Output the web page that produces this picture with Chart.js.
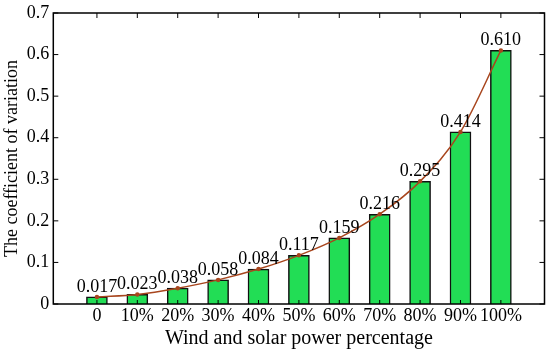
<!DOCTYPE html>
<html>
<head>
<meta charset="utf-8">
<script src="https://cdn.jsdelivr.net/npm/chart.js@4"></script>
<style>
  html, body { margin: 0; padding: 0; background: #fff; }
  #wrap { width: 550px; height: 349px; }
</style>
</head>
<body>
<div id="wrap"><canvas id="cvChart"></canvas></div>
<script>
const categories = ["0", "10%", "20%", "30%", "40%", "50%", "60%", "70%", "80%", "90%", "100%"];
const cvValues = [0.017, 0.023, 0.038, 0.058, 0.084, 0.117, 0.159, 0.216, 0.295, 0.414, 0.610];
const yTicks = [0, 0.1, 0.2, 0.3, 0.4, 0.5, 0.6, 0.7];

const serif = "'Liberation Serif', 'Times New Roman', serif";
const puntos = cvValues.map((v, i) => ({ x: i, y: v }));

// marco, marcas hacia dentro y etiquetas de valor
const extras = {
    id: "extras",
    afterDatasetsDraw(chart) {
        const { ctx, chartArea: a, scales: { x, y } } = chart;
        ctx.save();
        ctx.strokeStyle = "#000";
        ctx.lineWidth = 1.5;
        ctx.strokeRect(a.left, a.top, a.right - a.left, a.bottom - a.top);

        ctx.lineWidth = 1;
        ctx.beginPath();
        yTicks.forEach(t => {
            const py = y.getPixelForValue(t);
            ctx.moveTo(a.left, py); ctx.lineTo(a.left + 5, py);
            ctx.moveTo(a.right, py); ctx.lineTo(a.right - 5, py);
        });
        categories.forEach((c, i) => {
            const px = x.getPixelForValue(i);
            ctx.moveTo(px, a.top); ctx.lineTo(px, a.top + 5);
            ctx.moveTo(px, a.bottom); ctx.lineTo(px, a.bottom - 4);
        });
        ctx.stroke();

        ctx.fillStyle = "#000";
        ctx.font = "18px " + serif;
        ctx.textAlign = "center";
        ctx.textBaseline = "bottom";
        cvValues.forEach((v, i) => {
            ctx.fillText(v.toFixed(3), x.getPixelForValue(i), y.getPixelForValue(v) - 1);
        });
        ctx.restore();
    }
};

new Chart(document.getElementById("cvChart"), {
    data: {
        datasets: [
            {
                type: "line",
                data: puntos,
                borderColor: "#a8461e",
                backgroundColor: "#a8461e",
                borderWidth: 1.5,
                pointRadius: 1.5,
                tension: 0.4,
                cubicInterpolationMode: "monotone",
                order: 0
            },
            {
                type: "bar",
                data: puntos,
                backgroundColor: "#22dd55",
                borderColor: "#111",
                borderWidth: 1.5,
                barThickness: 21,
                order: 1
            }
        ]
    },
    options: {
        responsive: true,
        maintainAspectRatio: false,
        animation: false,
        layout: { padding: { top: 0, right: 4, left: 0, bottom: 0 } },
        plugins: { legend: { display: false }, tooltip: { enabled: false } },
        scales: {
            x: {
                type: "linear",
                offset: false,
                min: -1.08,
                max: 11.08,
                afterBuildTicks: s => { s.ticks = categories.map((c, i) => ({ value: i })); },
                ticks: {
                    color: "#000",
                    font: { family: serif, size: 18, lineHeight: 1 },
                    padding: 3,
                    maxRotation: 0,
                    autoSkip: false,
                    callback: v => categories[v]
                },
                grid: { display: false, drawTicks: false },
                border: { display: false },
                title: {
                    display: true,
                    text: "Wind and solar power percentage",
                    color: "#000",
                    font: { family: serif, size: 20, lineHeight: 1 },
                    padding: { top: 1, bottom: 0 }
                }
            },
            y: {
                min: 0,
                max: 0.7,
                afterBuildTicks: s => { s.ticks = yTicks.map(v => ({ value: v })); },
                ticks: {
                    color: "#000",
                    font: { family: serif, size: 18, lineHeight: 1 },
                    padding: 4,
                    callback: v => String(v)
                },
                grid: { display: false, drawTicks: false },
                border: { display: false },
                title: {
                    display: true,
                    text: "The coefficient of variation",
                    color: "#000",
                    font: { family: serif, size: 18, lineHeight: 1.1 },
                    padding: { top: 2, bottom: 1 }
                }
            }
        }
    },
    plugins: [extras]
});
</script>
</body>
</html>
